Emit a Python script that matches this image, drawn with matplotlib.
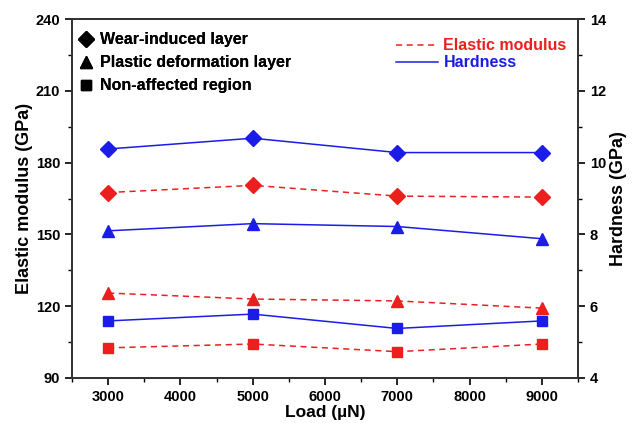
import matplotlib
matplotlib.use("Agg")
import matplotlib.pyplot as plt
from matplotlib.lines import Line2D
from matplotlib.ticker import MultipleLocator

plt.rcParams['font.family'] = ['Liberation Sans', 'DejaVu Sans']
plt.rcParams['font.weight'] = 'bold'

loads = [3000, 5000, 7000, 9000]
regions = ["Wear-induced layer", "Plastic deformation layer", "Non-affected region"]
markers = ['D', '^', 's']
msizes = [8, 8.5, 7]

modulus_wear = [167.5, 170.5, 166.0, 165.6]
modulus_plastic = [125.5, 123.0, 122.2, 119.2]
modulus_nonaff = [102.6, 104.2, 101.0, 104.2]

hardness_wear = [10.38, 10.68, 10.28, 10.28]
hardness_plastic = [8.10, 8.30, 8.22, 7.88]
hardness_nonaff = [5.59, 5.78, 5.38, 5.59]

modulus = [modulus_wear, modulus_plastic, modulus_nonaff]
hardness = [hardness_wear, hardness_plastic, hardness_nonaff]

red = '#ec1f1f'
blue = '#1c1ce8'

fig = plt.figure(figsize=(6.33, 4.23), dpi=100)
ax = fig.add_axes([0.1137, 0.1064, 0.7993, 0.8486])
ax2 = ax.twinx()

for vals, m, ms in zip(modulus, markers, msizes):
    ax.plot(loads, vals, color=red, ls=(0, (4, 3)), lw=1.1, marker=m, ms=ms,
            mfc=red, mec=red, zorder=3)
for vals, m, ms in zip(hardness, markers, msizes):
    ax2.plot(loads, vals, color=blue, ls='-', lw=1.1, marker=m, ms=ms,
             mfc=blue, mec=blue, zorder=3)

ax.set_xlim(2500, 9500)
ax.set_ylim(90, 240)
ax2.set_ylim(4, 14)
ax.set_xticks([3000, 4000, 5000, 6000, 7000, 8000, 9000])
ax.xaxis.set_minor_locator(MultipleLocator(500))
ax.yaxis.set_major_locator(MultipleLocator(30))
ax.yaxis.set_minor_locator(MultipleLocator(15))
ax2.yaxis.set_major_locator(MultipleLocator(2))
ax2.yaxis.set_minor_locator(MultipleLocator(1))

for a in (ax, ax2):
    a.tick_params(which='major', direction='out', length=5, width=1.2, labelsize=10.5)
    a.tick_params(which='minor', direction='out', length=3, width=1.0)
    for s in a.spines.values():
        s.set_linewidth(1.3)
        s.set_color('#333333')
ax.tick_params(axis='x', which='both', top=False)

ax.set_xlabel("Load (\u00b5N)", fontsize=12.5, fontweight='bold', labelpad=1)
ax.set_ylabel("Elastic modulus (GPa)", fontsize=13, fontweight='bold', labelpad=2)
ax2.set_ylabel("Hardness (GPa)", fontsize=13, fontweight='bold', labelpad=3)

h1 = [Line2D([], [], ls='none', marker=m, color='black', ms=ms) for m, ms in zip(markers, msizes)]
leg1 = ax.legend(h1, regions, loc='upper left', frameon=False,
                 bbox_to_anchor=(0.0, 1 - 7 / 359),
                 handletextpad=0.45, labelspacing=0.5, borderaxespad=0.1,
                 borderpad=0.3, handlelength=0.9,
                 prop={'weight': 'bold', 'size': 11.5})
ax.add_artist(leg1)

h2 = [Line2D([], [], color=red, ls=(0, (4, 3)), lw=1.1),
      Line2D([], [], color=blue, ls='-', lw=1.1)]
leg2 = ax2.legend(h2, ["Elastic modulus", "Hardness"], loc='upper right', frameon=False,
                  bbox_to_anchor=(1.0, 1 - 8 / 359),
                  prop={'weight': 'bold', 'size': 11.5}, labelcolor=[red, blue],
                  handlelength=2.6, handletextpad=0.37, labelspacing=0.12,
                  borderaxespad=0.3)

fig.savefig("out.png", dpi=100)
